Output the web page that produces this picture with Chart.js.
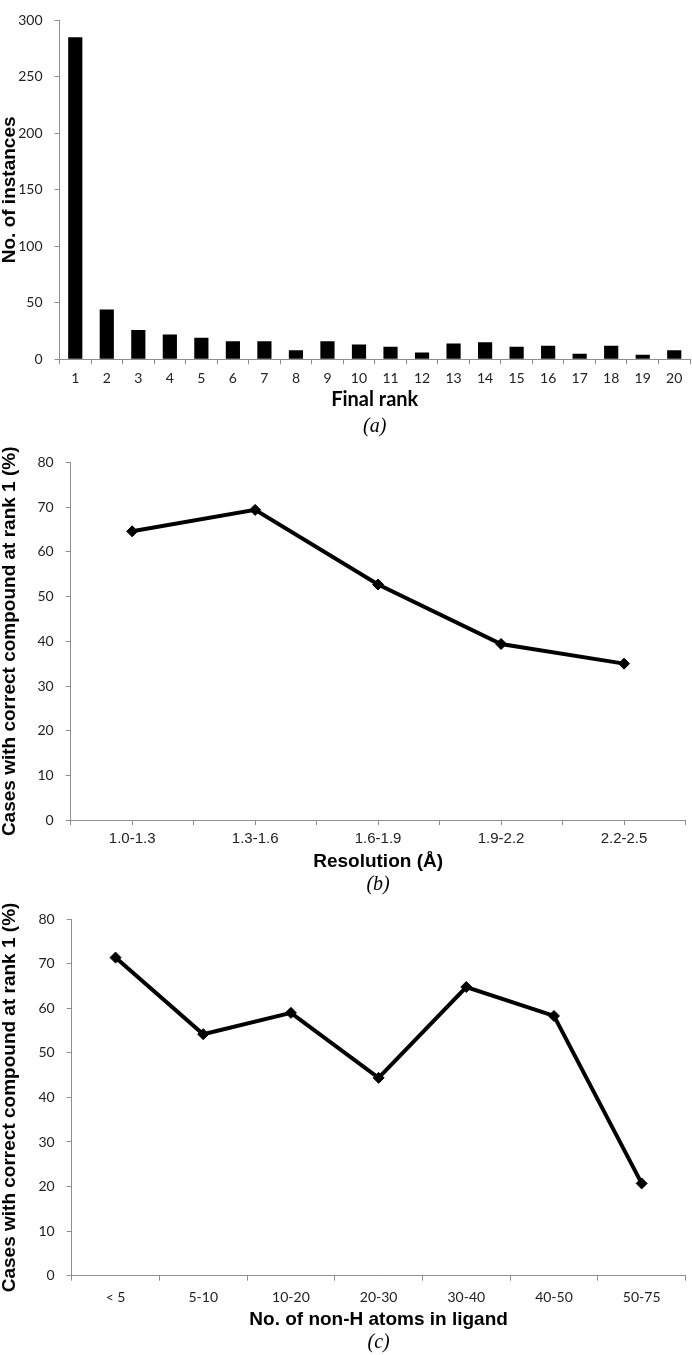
<!DOCTYPE html>
<html>
<head>
<meta charset="utf-8">
<script src="https://cdn.jsdelivr.net/npm/chart.js@4.4.1/dist/chart.umd.min.js"></script>
<style>
  body { margin: 0; background: #fff; }
  canvas { position: absolute; left: 0; }
</style>
</head>
<body>
<canvas id="chartA" width="692" height="440" style="top:0px"></canvas>
<canvas id="chartB" width="692" height="457" style="top:440px"></canvas>
<canvas id="chartC" width="692" height="458" style="top:897px"></canvas>
<script>
// (a) instances per final rank
const ranks = ['1', '2', '3', '4', '5', '6', '7', '8', '9', '10',
  '11', '12', '13', '14', '15', '16', '17', '18', '19', '20'];
const instances = [285, 44, 26, 22, 19, 16, 16, 8, 16, 13, 11, 6, 14, 15, 11, 12, 5, 12, 4, 8];

// (b) % correct at rank 1 by resolution
const resolutionBins = ['1.0-1.3', '1.3-1.6', '1.6-1.9', '1.9-2.2', '2.2-2.5'];
const resolutionPct = [64.6, 69.4, 52.7, 39.4, 35.0];

// (c) % correct at rank 1 by ligand size
const atomBins = ['< 5', '5-10', '10-20', '20-30', '30-40', '40-50', '50-75'];
const atomPct = [71.4, 54.2, 59.0, 44.4, 64.8, 58.3, 20.7];

Chart.defaults.animation = false;
Chart.defaults.font.family = 'Lato';

const axisGrey = '#8e8e8e';
const yTitle = 'Cases with correct compound at rank 1 (%)';

function yAxis(max, step, width, text) {
  return {
    min: 0,
    max: max,
    afterFit: s => { s.width = width; },
    border: { color: axisGrey },
    grid: { drawOnChartArea: false, color: axisGrey, tickLength: 5 },
    ticks: { stepSize: step, padding: 12, color: '#222', font: { family: 'Lato', size: 14 } },
    title: {
      display: true, text: text, padding: 0, color: '#000',
      font: { family: 'Liberation Sans', size: 19, weight: 'bold', lineHeight: 1 }
    }
  };
}

function caption(text, top, bottom) {
  return {
    display: true, position: 'bottom', fullSize: false, text: text,
    padding: { top: top, bottom: bottom }, color: '#000',
    font: { family: 'Liberation Serif', size: 20, style: 'italic', weight: 'normal', lineHeight: 1.2 }
  };
}

function lineSet(values) {
  return {
    data: values,
    borderColor: '#000',
    backgroundColor: '#000',
    borderWidth: 4,
    tension: 0,
    pointStyle: 'rectRot',
    pointRadius: 5.5,
    pointBorderWidth: 1,
    pointBackgroundColor: '#000',
    pointBorderColor: '#000'
  };
}

// Chart a
new Chart(document.getElementById('chartA'), {
  type: 'bar',
  data: {
    labels: ranks,
    datasets: [{
      data: instances,
      backgroundColor: '#000',
      categoryPercentage: 1,
      barPercentage: 0.45
    }]
  },
  options: {
    responsive: false,
    layout: { padding: { top: 5, right: 2, left: 0, bottom: 0 } },
    plugins: { legend: { display: false }, tooltip: { enabled: false }, title: caption('(a)', 3, 1) },
    scales: {
      x: {
        afterFit: s => { s.height = 52.7; },
        border: { color: axisGrey },
        grid: { drawOnChartArea: false, color: axisGrey, tickLength: 5, offset: true },
        ticks: { padding: 6, color: '#222', autoSkip: false, maxRotation: 0, font: { family: 'Lato', size: 14 } },
        title: {
          display: true, text: 'Final rank', padding: 0, color: '#000',
          font: { family: 'Lato', size: 20, weight: 'bold', lineHeight: 1.2 }
        }
      },
      y: yAxis(300, 50, 59.5, 'No. of instances')
    }
  }
});

// Chart b
new Chart(document.getElementById('chartB'), {
  type: 'line',
  data: {
    datasets: [lineSet(resolutionPct.map((v, i) => ({ x: i, y: v })))]
  },
  options: {
    responsive: false,
    clip: false,
    layout: { padding: { top: 22.5, right: 0, left: 0, bottom: 0 } },
    plugins: { legend: { display: false }, tooltip: { enabled: false }, title: caption('(b)', 0, 0) },
    scales: {
      x: {
        type: 'linear',
        min: -0.5,
        max: resolutionBins.length - 0.5,
        afterFit: s => { s.height = 52.9; },
        border: { color: axisGrey },
        grid: { drawOnChartArea: false, color: axisGrey, tickLength: 5 },
        ticks: {
          stepSize: 0.5, padding: 5, color: '#222', autoSkip: false, maxRotation: 0,
          font: { family: 'Liberation Sans', size: 15 },
          callback: v => Number.isInteger(v) ? resolutionBins[v] : ''
        },
        title: {
          display: true, text: 'Resolution (Å)', padding: 0, color: '#000',
          font: { family: 'Liberation Sans', size: 19, weight: 'bold', lineHeight: 1.2 }
        }
      },
      y: yAxis(80, 10, 70.7, yTitle)
    }
  }
});

// Chart c
new Chart(document.getElementById('chartC'), {
  type: 'line',
  data: {
    labels: atomBins,
    datasets: [lineSet(atomPct)]
  },
  options: {
    responsive: false,
    clip: false,
    layout: { padding: { top: 22.3, right: 2, left: 0, bottom: 0 } },
    plugins: { legend: { display: false }, tooltip: { enabled: false }, title: caption('(c)', 0, 0) },
    scales: {
      x: {
        offset: true,
        afterFit: s => { s.height = 55.4; },
        border: { color: axisGrey },
        grid: { drawOnChartArea: false, color: axisGrey, tickLength: 5, offset: true },
        ticks: { padding: 8, color: '#222', autoSkip: false, maxRotation: 0, font: { family: 'Lato', size: 14 } },
        title: {
          display: true, text: 'No. of non-H atoms in ligand', padding: 0, color: '#000',
          font: { family: 'Liberation Sans', size: 19, weight: 'bold', lineHeight: 1.2 }
        }
      },
      y: yAxis(80, 10, 71.7, yTitle)
    }
  }
});
</script>
</body>
</html>
